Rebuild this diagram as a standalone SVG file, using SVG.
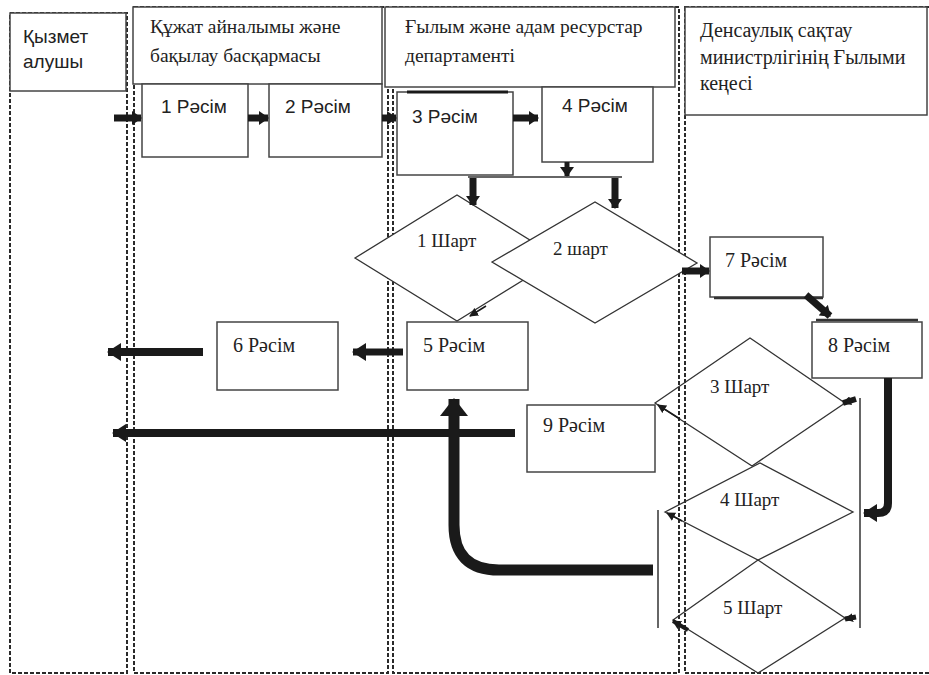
<svg xmlns="http://www.w3.org/2000/svg" width="929" height="675" viewBox="0 0 929 675">
<style>
.lane{fill:none;stroke:#2a2a2a;stroke-width:2;stroke-dasharray:4 2}
.hdr{fill:#fff;stroke:#444;stroke-width:1.5}
.box{fill:#fff;stroke:#444;stroke-width:1.5}
.dia{fill:none;stroke:#333;stroke-width:1.3}
.diaw{fill:#fff;stroke:#333;stroke-width:1.3}
.sans{font-family:"Liberation Sans",Arial,sans-serif;fill:#222}
.serif{font-family:"Liberation Serif","Times New Roman",serif;fill:#222}
.thick{stroke:#1a1a1a;fill:none}
.thin{stroke:#333;stroke-width:1.5;fill:none}
</style>
<defs>
<marker id="ah" markerUnits="userSpaceOnUse" markerWidth="10" markerHeight="14" refX="9" refY="7" orient="auto"><path d="M0,0 L10,7 L0,14 z" fill="#1a1a1a"/></marker>
<marker id="ahL" markerUnits="userSpaceOnUse" markerWidth="14" markerHeight="18" refX="13" refY="9" orient="auto"><path d="M0,0 L14,9 L0,18 z" fill="#1a1a1a"/></marker>
<marker id="ahXL" markerUnits="userSpaceOnUse" markerWidth="18" markerHeight="28" refX="17" refY="14" orient="auto"><path d="M0,0 L18,14 L0,28 z" fill="#1a1a1a"/></marker>
<marker id="ahS" markerUnits="userSpaceOnUse" markerWidth="9" markerHeight="9" refX="8" refY="4.5" orient="auto"><path d="M0,0 L9,4.5 L0,9 z" fill="#1a1a1a"/></marker>
</defs>
<rect width="929" height="675" fill="#fff"/>

<g id="lanes">
<rect class="lane" x="10" y="13" width="117" height="660"/>
<rect class="lane" x="134" y="7" width="254" height="666"/>
<rect class="lane" x="393" y="7" width="286" height="666"/>
<rect class="lane" x="685" y="7" width="260" height="666"/>
</g>

<g id="hdr1"><rect class="hdr" x="10" y="13" width="116" height="78"/>
<text class="sans" font-size="19" x="23" y="43">Қызмет</text><text class="sans" font-size="19" x="23" y="68">алушы</text></g>
<g id="hdr2"><rect class="hdr" x="133" y="7" width="249" height="77"/>
<text class="serif" font-size="19.5" x="150" y="33">Құжат айналымы және</text><text class="serif" font-size="19.5" x="150" y="62">бақылау басқармасы</text></g>
<g id="hdr3"><rect class="hdr" x="385" y="7" width="290" height="80"/>
<text class="serif" font-size="19.5" x="405" y="33">Ғылым және адам ресурстар</text><text class="serif" font-size="19.5" x="405" y="62">департаменті</text></g>
<g id="hdr4"><rect class="hdr" x="685" y="7" width="242" height="108"/>
<text class="serif" font-size="20" x="700" y="37">Денсаулық сақтау</text><text class="serif" font-size="20" x="700" y="64">министрлігінің Ғылыми</text><text class="serif" font-size="20" x="700" y="90">кеңесі</text></g>

<g id="r1"><rect class="box" x="142" y="84" width="106" height="73"/><text class="sans" font-size="19" x="161" y="113">1 Рәсім</text></g>
<g id="r2"><rect class="box" x="269" y="84" width="113" height="73"/><text class="sans" font-size="19" x="285" y="113">2 Рәсім</text></g>
<g id="r3"><rect class="box" x="397" y="92" width="116" height="83"/><line x1="407" y1="92" x2="508" y2="92" stroke="#1a1a1a" stroke-width="3"/><text class="sans" font-size="19" x="412" y="123">3 Рәсім</text></g>
<g id="r4"><rect class="box" x="542" y="87" width="111" height="75"/><text class="sans" font-size="19" x="562" y="112">4 Рәсім</text></g>

<g id="s1"><polygon class="diaw" points="355,258 457,195 559,258 457,321"/><text class="serif" font-size="19" x="417" y="247">1 Шарт</text></g>
<g id="s2"><polygon class="diaw" points="492,262 595,202 697,263 595,323"/><text class="serif" font-size="19" x="553" y="255">2 шарт</text></g>

<g id="r7"><rect class="box" x="710" y="237" width="113" height="60"/><line x1="714" y1="298" x2="823" y2="298" stroke="#333" stroke-width="2.5"/><text class="serif" font-size="20" x="725" y="267">7 Рәсім</text></g>
<g id="r8"><rect class="box" x="812" y="322" width="110" height="56"/><line x1="816" y1="320" x2="918" y2="320" stroke="#333" stroke-width="2.5"/><text class="serif" font-size="20" x="828" y="352">8 Рәсім</text></g>

<g id="r5"><rect class="box" x="407" y="322" width="121" height="68"/><text class="serif" font-size="20" x="423" y="352">5 Рәсім</text></g>
<g id="r6"><rect class="box" x="217" y="322" width="121" height="68"/><text class="serif" font-size="20" x="233" y="352">6 Рәсім</text></g>
<g id="r9"><rect class="box" x="527" y="405" width="128" height="67"/><text class="serif" font-size="20" x="543" y="432">9 Рәсім</text></g>

<g id="s3"><polygon class="dia" points="655,403 750,338 845,403 752,466"/><text class="serif" font-size="19" x="710" y="393">3 Шарт</text></g>
<g id="s4"><polygon class="dia" points="665,512 760,463 853,512 758,560"/><text class="serif" font-size="19" x="720" y="506">4 Шарт</text></g>
<g id="s5"><polygon class="dia" points="673,620 758,560 845,618 758,673"/><text class="serif" font-size="19" x="723" y="614">5 Шарт</text></g>

<g id="connectors">
<line class="thick" stroke-width="7" x1="114" y1="118" x2="141" y2="118" marker-end="url(#ah)"/>
<line class="thick" stroke-width="7" x1="248" y1="118" x2="268" y2="118" marker-end="url(#ah)"/>
<line class="thick" stroke-width="7" x1="382" y1="118" x2="396" y2="118" marker-end="url(#ah)"/>
<line class="thick" stroke-width="7" x1="513" y1="118" x2="538" y2="118" marker-end="url(#ah)"/>
<line class="thick" stroke-width="5" x1="567" y1="162" x2="567" y2="176" marker-end="url(#ah)"/>
<line class="thin" stroke-width="2" x1="468" y1="177" x2="622" y2="177"/>
<line class="thick" stroke-width="7" x1="473" y1="178" x2="473" y2="205" marker-end="url(#ah)"/>
<line class="thick" stroke-width="7" x1="615" y1="178" x2="615" y2="208" marker-end="url(#ah)"/>
<line class="thick" stroke-width="7" x1="682" y1="271" x2="709" y2="271" marker-end="url(#ah)"/>
<line class="thick" stroke-width="7" x1="806" y1="295" x2="830" y2="316" marker-end="url(#ah)"/>
<path class="thick" stroke-width="8" d="M888,378 V503 Q888,513 878,513 H864" marker-end="url(#ahL)"/>
<line class="thick" stroke-width="6" x1="856" y1="399" x2="843" y2="403" marker-end="url(#ahS)"/>
<line class="thin" x1="860" y1="398" x2="860" y2="628"/>
<line class="thin" x1="658" y1="510" x2="658" y2="628"/>
<line class="thick" stroke-width="1.5" x1="680" y1="419" x2="658" y2="405" marker-end="url(#ahS)"/>
<line class="thick" stroke-width="1.5" x1="682" y1="521" x2="667" y2="513" marker-end="url(#ahS)"/>
<line class="thick" stroke-width="4" x1="688" y1="630" x2="673" y2="621" marker-end="url(#ahS)"/>
<line class="thick" stroke-width="5" x1="856" y1="617" x2="845" y2="619" marker-end="url(#ahS)"/>
<line class="thick" stroke-width="1.5" x1="486" y1="306" x2="470" y2="316" marker-end="url(#ahS)"/>
<line class="thick" stroke-width="8" x1="203" y1="352" x2="108" y2="352" marker-end="url(#ahL)"/>
<line class="thick" stroke-width="7" x1="403" y1="352" x2="353" y2="352" marker-end="url(#ahL)"/>
<line class="thick" stroke-width="8" x1="515" y1="433" x2="113" y2="433" marker-end="url(#ahL)"/>
<path class="thick" stroke-width="11" d="M653,570 H499 Q454,570 454,525 V399" marker-end="url(#ahXL)"/>
</g>
</svg>
